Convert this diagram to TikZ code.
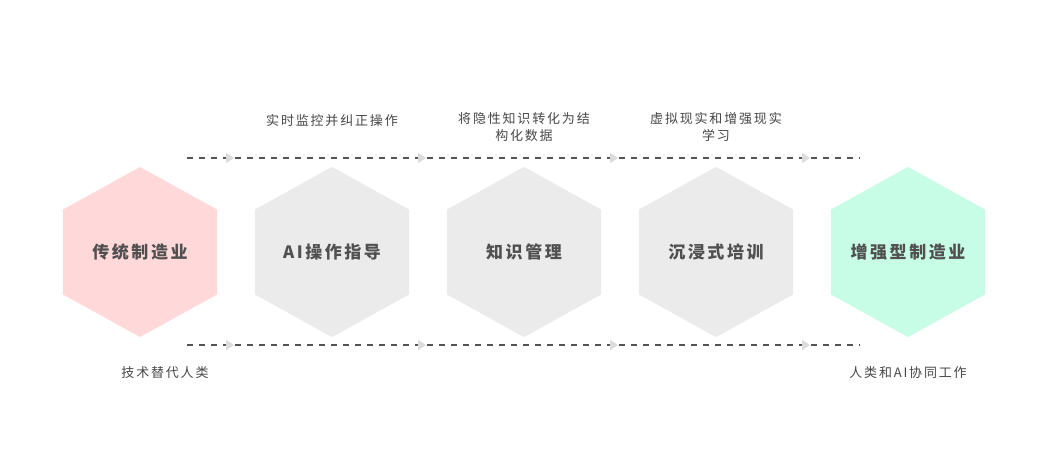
\documentclass[tikz,border=0pt]{standalone}
\usepackage{fontspec}
\usepackage{xcolor}
\usetikzlibrary{positioning,arrows.meta}
\newfontfamily\hexfont[LetterSpace=15]{Noto Sans CJK SC}
\newfontfamily\notefont[LetterSpace=14]{Noto Sans CJK SC}
\definecolor{hexpink}{HTML}{FFD9D9}
\definecolor{hexgrey}{HTML}{EBEBEB}
\definecolor{hexgreen}{HTML}{C7FCE6}
\definecolor{labelgrey}{HTML}{505050}
\definecolor{notegrey}{HTML}{474747}
\definecolor{lineGrey}{HTML}{555555}
\definecolor{tipgrey}{HTML}{DCDCDC}
\tikzset{
    hexlabel/.style={font=\hexfont\bfseries\fontsize{17}{20}\selectfont, text=labelgrey},
    note/.style={font=\notefont\fontsize{13}{17}\selectfont, text=notegrey, align=center},
    flowline/.style={lineGrey, line width=1.6pt, dash pattern=on 5.5pt off 6.5pt},
    flowtip/.style={-{Triangle[length=8pt,width=10pt,color=tipgrey]}, shorten >=1pt}
}

\begin{document}
\begin{tikzpicture}[x=1pt,y=-1pt]
    \fill[white] (0,0) rectangle (1048,468);
    \useasboundingbox (0,0) rectangle (1048,468);

    % hexagons
    \foreach \x/\c in {140/hexpink,332/hexgrey,524/hexgrey,716/hexgrey,908/hexgreen}
        \fill[\c] (\x,167) -- (\x+77,209.5) -- (\x+77,294.5) -- (\x,337)
            -- (\x-77,294.5) -- (\x-77,209.5) -- cycle;

    % stages
    \node[hexlabel] (h1) at (140,252) {传统制造业};
    \node[hexlabel] (h2) at (332,252) {AI操作指导};
    \node[hexlabel] (h3) at (524,252) {知识管理};
    \node[hexlabel] (h4) at (716,252) {沉浸式培训};
    \node[hexlabel] (h5) at (908,252) {增强型制造业};

    % notes above
    \node[note] (n2) at (332,121) {实时监控并纠正操作};
    \node[note] (n3) at (524,127) {将隐性知识转化为结\\构化数据};
    \node[note] (n4) at (716,127) {虚拟现实和增强现实\\学习};

    % notes below
    \node[note] (m1) at (165,373) {技术替代人类};
    \node[note] (m5) at (908,373) {人类和AI协同工作};

    % flow lines
    \foreach \y/\r in {158/t,345/b} {
        \coordinate (\r0) at (187,\y);
        \coordinate (\r1) at (235,\y);
        \coordinate (\r2) at (427,\y);
        \coordinate (\r3) at (619,\y);
        \coordinate (\r4) at (811,\y);
        \coordinate (\r5) at (860,\y);
        \draw[flowline,flowtip] (\r0) -- (\r1);
        \draw[flowline,flowtip] (\r1) -- (\r2);
        \draw[flowline,flowtip] (\r2) -- (\r3);
        \draw[flowline,flowtip] (\r3) -- (\r4);
        \draw[flowline] (\r4) -- (\r5);
    }
\end{tikzpicture}
\end{document}
